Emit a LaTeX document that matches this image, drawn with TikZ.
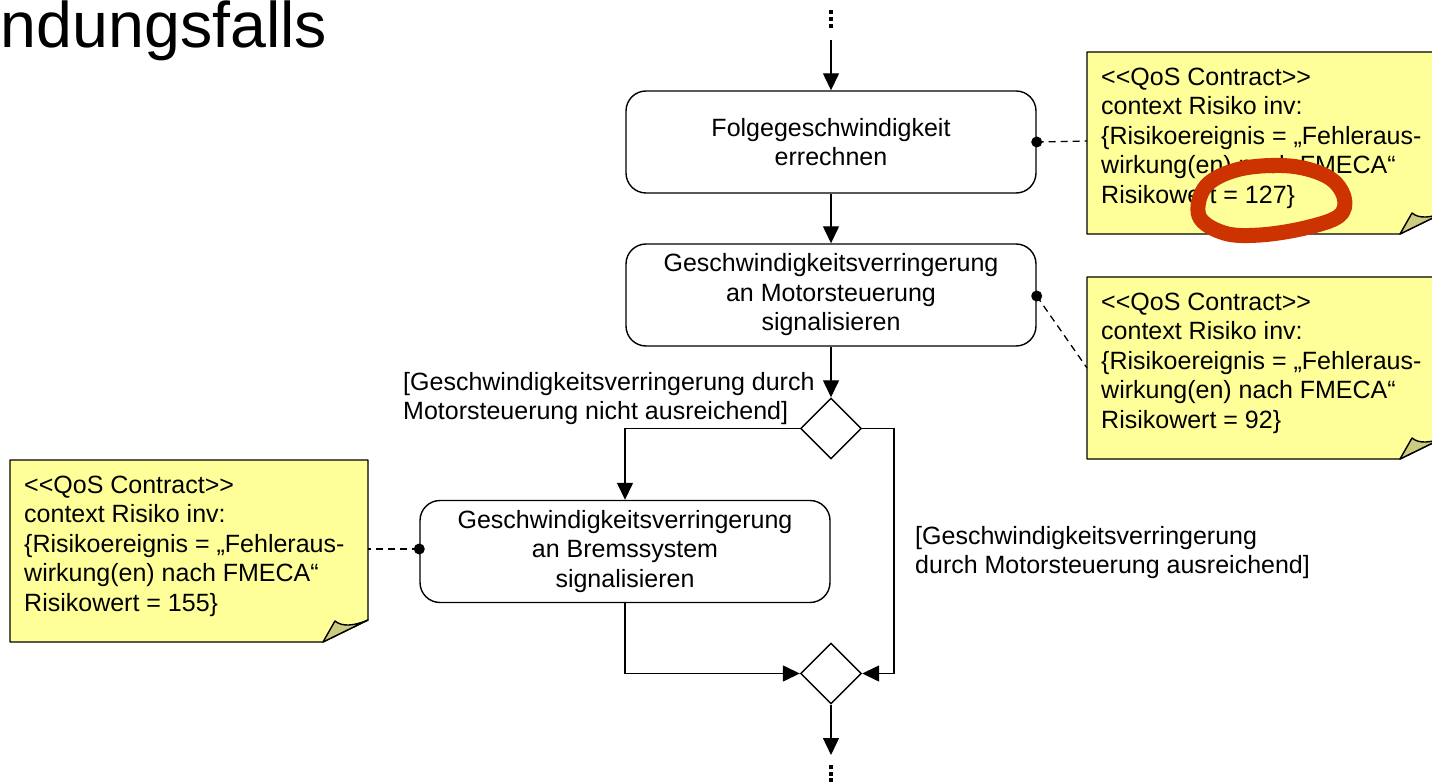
\documentclass[tikz,border=0pt]{standalone}
\usepackage{fontspec}
\setmainfont{Liberation Sans}
\usetikzlibrary{shapes.geometric,arrows.meta,calc}
\definecolor{notefill}{RGB}{255,255,153}
\definecolor{foldfill}{RGB}{204,204,128}
\definecolor{scribblered}{RGB}{204,51,0}
\tikzset{
  every node/.style={font=\fontsize{25}{29.5}\selectfont},
  action/.style={draw, line width=1.4pt, rounded corners=20pt, minimum width=410pt, minimum height=102pt, align=center, inner sep=0pt},
  decision/.style={draw, line width=1.4pt, diamond, minimum width=61pt, minimum height=61pt, inner sep=0pt},
  flow/.style={line width=1.4pt, -{Triangle[length=17pt,width=16pt]}},
  anchorline/.style={line width=1.3pt, dash pattern=on 7pt off 5pt},
  attach/.style={circle, fill=black, inner sep=0pt, minimum size=11pt},
  notebody/.style={fill=notefill, draw, line width=1.4pt, line join=round},
  notefold/.style={fill=foldfill, draw, line width=1.4pt, line join=round},
  notetext/.style={anchor=north west, align=left, inner sep=0pt},
  guard/.style={anchor=north west, align=left, inner sep=0pt},
  dotsq/.style={fill=black, minimum size=4pt, inner sep=0pt},
  scribble/.style={draw=scribblered, line width=15pt, line cap=round, line join=round}
}
\newcommand{\qosnote}[3]{% #1 name, #2 left, #3 top
  \coordinate (#1tl) at (#2,#3);
  \coordinate (#1br) at ($(#2,#3)+(358,182)$);
  \path[notebody] (#1tl) -- ($(#1tl)+(358,0)$) -- ($(#1br)+(0,-22)$) -- ($(#1br)+(-45,0)$) -- ($(#1tl)+(0,182)$) -- cycle;
  \path[notefold] ($(#1br)+(-45,0)$) -- ($(#1br)+(-33,-21)$) .. controls ($(#1br)+(-26,-15)$) and ($(#1br)+(-14,-16)$) .. ($(#1br)+(0,-22)$) -- cycle;
}
\newcommand{\qostext}[1]{<{}<QoS Contract>{}>\\context Risiko inv:\\\{Risikoereignis = „Fehleraus-\\wirkung(en) nach FMECA“\\Risikowert = #1\}}
\begin{document}
\begin{tikzpicture}[x=1pt,y=-1pt]
\useasboundingbox (0,0) rectangle (1432,783);
\clip (0,0) rectangle (1432,783);

% title fragment
\node[anchor=base west, inner sep=0pt, font=\fontsize{64.5}{70}\selectfont] (title) at (0.5,48) {ndungsfalls};

% actions
\node[action] (b1) at (831,142) {Folgegeschwindigkeit\\errechnen};
\node[action] (b2) at (831,295) {Geschwindigkeitsverringerung\\an Motorsteuerung\\signalisieren};
\node[action] (b3) at (625,551.5) {Geschwindigkeitsverringerung\\an Bremssystem\\signalisieren};

% decisions
\node[decision] (d1) at (831,428.5) {};
\node[decision] (d2) at (831,673.5) {};

% flow ends
\coordinate (topstart) at (831,40);
\coordinate (botend) at (831,755);
\coordinate (r1) at (894,428.5);
\foreach \i/\y in {1/12,2/19,3/26} \node[dotsq] (td\i) at (831,\y) {};
\foreach \i/\y in {1/767,2/773.5,3/780} \node[dotsq] (bd\i) at (831,\y) {};

% flows
\draw[flow] (topstart) -- (b1.north);
\draw[flow] (b1.south) -- (b2.north);
\draw[flow] (b2.south) -- (d1.north);
\draw[flow] (d1.west) -| (b3.north);
\draw[flow] (d1.east) -- (r1) |- (d2.east);
\draw[flow] (b3.south) |- (d2.west);
\draw[flow] (d2.south) -- (botend);

% guards
\node[guard] (g1) at (403,372) {[Geschwindigkeitsverringerung durch\\Motorsteuerung nicht ausreichend]};
\node[guard] (g2) at (915,526) {[Geschwindigkeitsverringerung\\durch Motorsteuerung ausreichend]};

% notes
\qosnote{n1}{1087}{52}
\qosnote{n2}{1087}{277}
\qosnote{n3}{10}{460}
\node[notetext] (t1) at (1101,67.5) {\qostext{127}};
\node[notetext] (t2) at (1101,292.5) {\qostext{92}};
\node[notetext] (t3) at (24,475.5) {\qostext{155}};

% note anchors
\coordinate (n1a) at (1087,141);
\coordinate (n2a) at (1087,368);
\coordinate (n3a) at (368,549);
\node[attach] (p1) at (b1.east) {};
\node[attach] (p2) at ($(b2.east)+(0,1)$) {};
\node[attach] (p3) at ($(b3.west)+(0,-2.5)$) {};
\draw[anchorline] (p1.center) -- (n1a);
\draw[anchorline] (p2.center) -- (n2a);
\draw[anchorline] (p3.center) -- (n3a);

% red scribble
\draw[scribble] plot[smooth cycle, tension=0.6] coordinates {(1199,216) (1206,186) (1240,169) (1290,166) (1328,177) (1344,197) (1339,216) (1305,228) (1260,235) (1224,233)};
\end{tikzpicture}
\end{document}
